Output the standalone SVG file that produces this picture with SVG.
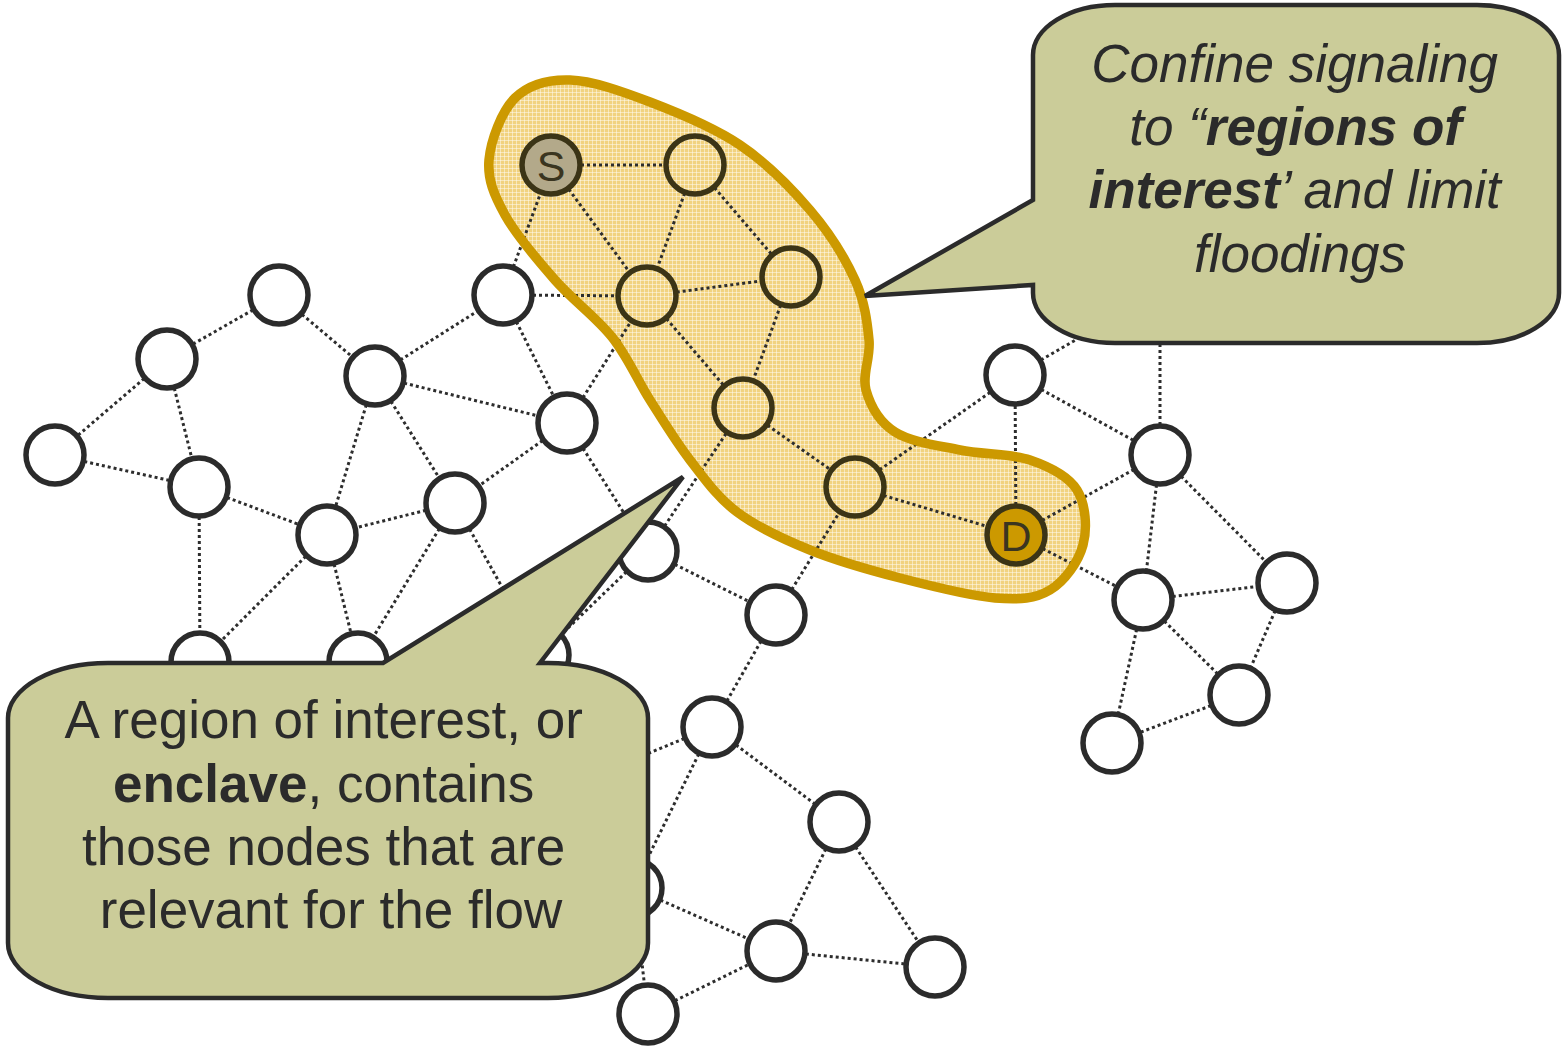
<svg xmlns="http://www.w3.org/2000/svg" width="1562" height="1049" viewBox="0 0 1562 1049">
  <style>
    .edge { stroke: #2d2d2d; stroke-width: 3; stroke-dasharray: 3 3; fill: none; }
    .node { fill: #ffffff; stroke: #2b2b2b; stroke-width: 5.5; }
    .inner { fill: url(#mesh); stroke: #3b3416; stroke-width: 5.5; }
    .blank { fill: #ffffff; }
    .callout { fill: #cbcc99; stroke: #2b2b2b; stroke-width: 4.5; stroke-linejoin: miter; }
    .ctext { font-family: "Liberation Sans", Arial, sans-serif; font-size: 53px; fill: #2b2b2b; text-anchor: middle; }
    .lbl { font-family: "Liberation Sans", Arial, sans-serif; font-size: 43px; fill: #3a3520; text-anchor: middle; }
  </style>
  <defs>
    <pattern id="mesh" width="4" height="4" patternUnits="userSpaceOnUse">
      <rect width="4" height="4" fill="#e9bb3c" fill-opacity="0.66"/>
      <path d="M0 0.5H4M0.5 0V4" stroke="#ffffff" stroke-opacity="0.45" stroke-width="1"/>
    </pattern>
    <path id="enclave-shape" d="M489,160 C490.7,140.5 501.5,111.3 515,98 C528.5,84.7 547.5,79.3 570,80 C592.5,80.7 621.7,91.2 650,102 C678.3,112.8 713.3,127 740,145 C766.7,163 790.8,187.5 810,210 C829.2,232.5 845.2,258.3 855,280 C864.8,301.7 867.2,321.7 869,340 C870.8,358.3 861.7,374.7 866,390 C870.3,405.3 879.3,422 895,432 C910.7,442 937.5,445.3 960,450 C982.5,454.7 1010.5,453.3 1030,460 C1049.5,466.7 1068.2,475.8 1077,490 C1085.8,504.2 1087.5,528.3 1083,545 C1078.5,561.7 1064.7,581.2 1050,590 C1035.3,598.8 1020,600 995,598 C970,596 930.8,586 900,578 C869.2,570 837.2,561 810,550 C782.8,539 757,527 737,512 C717,497 704.5,478.7 690,460 C675.5,441.3 663,420.5 650,400 C637,379.5 627.8,357 612,337 C596.2,317 572.8,300.3 555,280 C537.2,259.7 516,235 505,215 C494,195 487.3,179.5 489,160 Z"/>
  </defs>
  <rect width="1562" height="1049" fill="#ffffff"/>

  <!-- enclave area (region of interest around the S-D path) -->
  <g id="enclave-area">
    <use href="#enclave-shape" fill="url(#mesh)"/>
  </g>

  <!-- links between nodes -->
  <g id="connectors">
    <line class="edge" x1="279" y1="295" x2="167" y2="359"/>
    <line class="edge" x1="279" y1="295" x2="375" y2="376"/>
    <line class="edge" x1="167" y1="359" x2="55" y2="455"/>
    <line class="edge" x1="167" y1="359" x2="199" y2="487"/>
    <line class="edge" x1="55" y1="455" x2="199" y2="487"/>
    <line class="edge" x1="199" y1="487" x2="327" y2="535"/>
    <line class="edge" x1="199" y1="487" x2="200" y2="662"/>
    <line class="edge" x1="375" y1="376" x2="503" y2="295"/>
    <line class="edge" x1="375" y1="376" x2="567" y2="423"/>
    <line class="edge" x1="375" y1="376" x2="455" y2="503"/>
    <line class="edge" x1="375" y1="376" x2="327" y2="535"/>
    <line class="edge" x1="503" y1="295" x2="551" y2="165"/>
    <line class="edge" x1="503" y1="295" x2="647" y2="296"/>
    <line class="edge" x1="503" y1="295" x2="567" y2="423"/>
    <line class="edge" x1="567" y1="423" x2="647" y2="296"/>
    <line class="edge" x1="567" y1="423" x2="455" y2="503"/>
    <line class="edge" x1="567" y1="423" x2="648" y2="551"/>
    <line class="edge" x1="455" y1="503" x2="327" y2="535"/>
    <line class="edge" x1="455" y1="503" x2="358" y2="662"/>
    <line class="edge" x1="455" y1="503" x2="540" y2="655"/>
    <line class="edge" x1="327" y1="535" x2="200" y2="662"/>
    <line class="edge" x1="327" y1="535" x2="358" y2="662"/>
    <line class="edge" x1="648" y1="551" x2="743" y2="408"/>
    <line class="edge" x1="648" y1="551" x2="540" y2="655"/>
    <line class="edge" x1="648" y1="551" x2="776" y2="615"/>
    <line class="edge" x1="776" y1="615" x2="855" y2="487"/>
    <line class="edge" x1="776" y1="615" x2="712" y2="727"/>
    <line class="edge" x1="712" y1="727" x2="560" y2="790"/>
    <line class="edge" x1="712" y1="727" x2="633" y2="888"/>
    <line class="edge" x1="712" y1="727" x2="839" y2="822"/>
    <line class="edge" x1="633" y1="888" x2="776" y2="951"/>
    <line class="edge" x1="633" y1="888" x2="648" y2="1014"/>
    <line class="edge" x1="648" y1="1014" x2="776" y2="951"/>
    <line class="edge" x1="839" y1="822" x2="776" y2="951"/>
    <line class="edge" x1="839" y1="822" x2="935" y2="967"/>
    <line class="edge" x1="776" y1="951" x2="935" y2="967"/>
    <line class="edge" x1="551" y1="165" x2="695" y2="165"/>
    <line class="edge" x1="551" y1="165" x2="647" y2="296"/>
    <line class="edge" x1="695" y1="165" x2="647" y2="296"/>
    <line class="edge" x1="695" y1="165" x2="791" y2="277"/>
    <line class="edge" x1="647" y1="296" x2="791" y2="277"/>
    <line class="edge" x1="647" y1="296" x2="743" y2="408"/>
    <line class="edge" x1="791" y1="277" x2="743" y2="408"/>
    <line class="edge" x1="743" y1="408" x2="855" y2="487"/>
    <line class="edge" x1="855" y1="487" x2="1016" y2="535"/>
    <line class="edge" x1="855" y1="487" x2="1015" y2="375"/>
    <line class="edge" x1="1016" y1="535" x2="1015" y2="375"/>
    <line class="edge" x1="1016" y1="535" x2="1160" y2="455"/>
    <line class="edge" x1="1016" y1="535" x2="1143" y2="600"/>
    <line class="edge" x1="1015" y1="375" x2="1110" y2="320"/>
    <line class="edge" x1="1015" y1="375" x2="1160" y2="455"/>
    <line class="edge" x1="1160" y1="455" x2="1160" y2="300"/>
    <line class="edge" x1="1160" y1="455" x2="1143" y2="600"/>
    <line class="edge" x1="1160" y1="455" x2="1287" y2="583"/>
    <line class="edge" x1="1143" y1="600" x2="1287" y2="583"/>
    <line class="edge" x1="1143" y1="600" x2="1239" y2="695"/>
    <line class="edge" x1="1143" y1="600" x2="1112" y2="743"/>
    <line class="edge" x1="1287" y1="583" x2="1239" y2="695"/>
    <line class="edge" x1="1239" y1="695" x2="1112" y2="743"/>
  </g>

  <!-- network nodes -->
  <g id="n-a"><circle class="node" cx="279" cy="295" r="29"/></g>
  <g id="n-b"><circle class="node" cx="167" cy="359" r="29"/></g>
  <g id="n-c"><circle class="node" cx="55" cy="455" r="29"/></g>
  <g id="n-e"><circle class="node" cx="199" cy="487" r="29"/></g>
  <g id="n-f"><circle class="node" cx="375" cy="376" r="29"/></g>
  <g id="n-g"><circle class="node" cx="503" cy="295" r="29"/></g>
  <g id="n-h"><circle class="node" cx="567" cy="423" r="29"/></g>
  <g id="n-i"><circle class="node" cx="455" cy="503" r="29"/></g>
  <g id="n-j"><circle class="node" cx="327" cy="535" r="29"/></g>
  <g id="n-k"><circle class="node" cx="648" cy="551" r="29"/></g>
  <g id="n-l"><circle class="node" cx="776" cy="615" r="29"/></g>
  <g id="n-m"><circle class="node" cx="200" cy="662" r="29"/></g>
  <g id="n-n"><circle class="node" cx="358" cy="662" r="29"/></g>
  <g id="n-o"><circle class="node" cx="540" cy="655" r="29"/></g>
  <g id="n-p"><circle class="node" cx="712" cy="727" r="29"/></g>
  <g id="n-q"><circle class="node" cx="633" cy="888" r="29"/></g>
  <g id="n-r"><circle class="node" cx="648" cy="1014" r="29"/></g>
  <g id="n-s2"><circle class="node" cx="839" cy="822" r="29"/></g>
  <g id="n-t"><circle class="node" cx="776" cy="951" r="29"/></g>
  <g id="n-u"><circle class="node" cx="935" cy="967" r="29"/></g>
  <g id="n-v"><circle class="node" cx="1015" cy="375" r="29"/></g>
  <g id="n-w"><circle class="node" cx="1160" cy="455" r="29"/></g>
  <g id="n-x"><circle class="node" cx="1143" cy="600" r="29"/></g>
  <g id="n-y"><circle class="node" cx="1287" cy="583" r="29"/></g>
  <g id="n-z"><circle class="node" cx="1239" cy="695" r="29"/></g>
  <g id="n-aa"><circle class="node" cx="1112" cy="743" r="29"/></g>
  <!-- nodes inside the enclave: white disc under the mesh so links stop at the rim -->
  <g id="n-e2"><circle class="blank" cx="695" cy="165" r="29"/><circle class="inner" cx="695" cy="165" r="29"/></g>
  <g id="n-e3"><circle class="blank" cx="647" cy="296" r="29"/><circle class="inner" cx="647" cy="296" r="29"/></g>
  <g id="n-e4"><circle class="blank" cx="791" cy="277" r="29"/><circle class="inner" cx="791" cy="277" r="29"/></g>
  <g id="n-e5"><circle class="blank" cx="743" cy="408" r="29"/><circle class="inner" cx="743" cy="408" r="29"/></g>
  <g id="n-e6"><circle class="blank" cx="855" cy="487" r="29"/><circle class="inner" cx="855" cy="487" r="29"/></g>
  <g id="n-source">
    <circle class="inner" cx="551" cy="165" r="29" style="fill:#b3a98a"/>
    <text class="lbl" x="551" y="181">S</text>
  </g>
  <g id="n-dest">
    <circle class="inner" cx="1016" cy="535" r="29" style="fill:#cc9900"/>
    <text class="lbl" x="1016" y="551">D</text>
  </g>

  <!-- enclave border -->
  <g id="enclave-border">
    <use href="#enclave-shape" fill="none" stroke="#cc9900" stroke-width="9.5"/>
  </g>

  <!-- callout: confine signaling -->
  <g id="callout-confine">
    <path class="callout" d="M1115,5 H1477 A82,50 0 0 1 1559,55 V293 A82,50 0 0 1 1477,343 H1115 A82,50 0 0 1 1033,293 V285 L865,296 L1033,200 V55 A82,50 0 0 1 1115,5 Z"/>
    <text class="ctext" font-style="italic">
      <tspan x="1302" y="82">Confine signaling</tspan>
      <tspan x="1303" y="145">to “<tspan font-weight="bold">regions of</tspan></tspan>
      <tspan x="1302" y="208"><tspan font-weight="bold">interest</tspan>’ and limit</tspan>
      <tspan x="1300" y="272">floodings</tspan>
    </text>
  </g>

  <!-- callout: enclave definition -->
  <g id="callout-enclave">
    <path class="callout" d="M108,663 H383 L683,477 L540,663 H548 A100,55 0 0 1 648,718 V943 A100,55 0 0 1 548,998 H108 A100,55 0 0 1 8,943 V718 A100,55 0 0 1 108,663 Z"/>
    <text class="ctext">
      <tspan x="331" y="738">A region of interest, or</tspan>
      <tspan x="331" y="802"><tspan font-weight="bold">enclave</tspan>, contains</tspan>
      <tspan x="331" y="865">those nodes that are</tspan>
      <tspan x="331" y="928">relevant for the flow</tspan>
    </text>
  </g>
</svg>
